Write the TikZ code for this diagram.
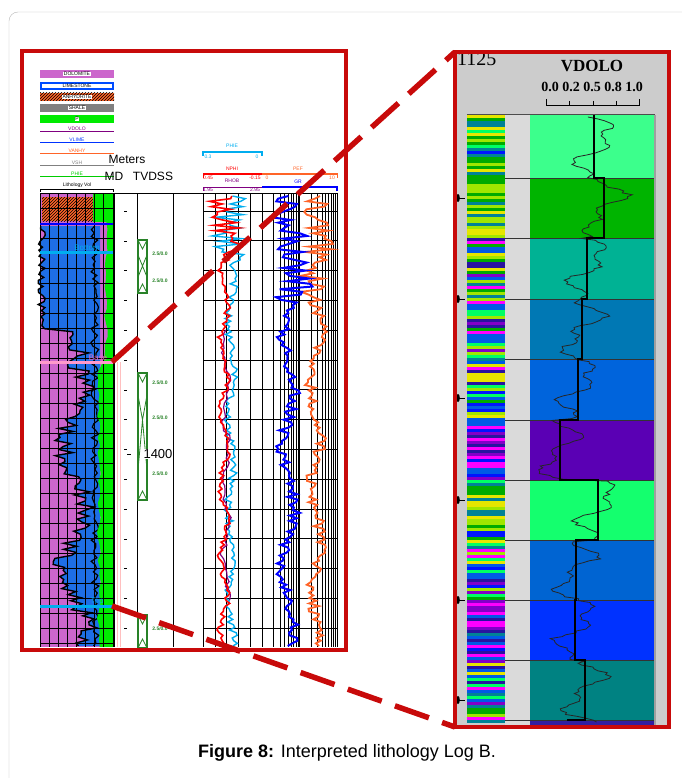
\documentclass[tikz,border=0pt]{standalone}
\usepackage{fontspec}
\setmainfont{Liberation Serif}
\setsansfont{Liberation Sans}
\usetikzlibrary{patterns}
\definecolor{frame}{RGB}{200,10,10}
\definecolor{litmag}{RGB}{204,102,204}
\definecolor{litblue}{RGB}{30,110,230}
\definecolor{litgreen}{RGB}{0,235,0}
\definecolor{litorange}{RGB}{255,100,40}
\definecolor{zonegreen}{RGB}{40,130,40}
\definecolor{panelgray}{RGB}{204,204,204}
\definecolor{colgray}{RGB}{218,218,218}
\definecolor{za}{RGB}{60,255,140}
\definecolor{zb}{RGB}{0,180,0}
\definecolor{zc}{RGB}{0,178,148}
\definecolor{zd}{RGB}{0,120,180}
\definecolor{ze}{RGB}{0,100,220}
\definecolor{zf}{RGB}{90,0,180}
\definecolor{zg}{RGB}{20,255,110}
\definecolor{zh}{RGB}{0,100,210}
\definecolor{zi}{RGB}{0,50,255}
\definecolor{zj}{RGB}{0,130,130}
\definecolor{zk}{RGB}{50,30,160}
\definecolor{sgreen}{RGB}{0,170,0}
\definecolor{sbright}{RGB}{0,255,100}
\definecolor{slime}{RGB}{160,230,0}
\definecolor{syellow}{RGB}{230,230,0}
\definecolor{sblue}{RGB}{0,20,255}
\definecolor{sroyal}{RGB}{0,90,230}
\definecolor{steal}{RGB}{0,130,150}
\definecolor{smag}{RGB}{255,0,255}
\definecolor{spurple}{RGB}{130,0,200}
\definecolor{snavy}{RGB}{40,20,160}
\pgfmathdeclarerandomlist{stripG}{{sgreen}{sbright}{slime}{syellow}{sgreen}{steal}{sblue}{slime}}
\pgfmathdeclarerandomlist{stripA}{{sgreen}{sbright}{slime}{syellow}{sblue}{sroyal}{steal}{spurple}{smag}{snavy}}
\pgfmathdeclarerandomlist{stripP}{{smag}{spurple}{snavy}{sblue}{smag}{spurple}{sroyal}{steal}}

\begin{document}
\begin{tikzpicture}[x=1pt,y=-1pt,
  tinytext/.style={font=\sffamily\fontsize{5}{5}\selectfont, inner sep=0.5},
  zoomline/.style={frame, line width=5.5, dash pattern=on 36pt off 14pt},
  declare function={vd(\t)=(\t<178?594:(\t<238?604:(\t<299?587:(\t<359?582:(\t<420?578:(\t<480?560:(\t<540?598:(\t<600?576:(\t<660?575:585)))))))));}]
\useasboundingbox (0,0) rectangle (681,778);
\draw[gray!55, rounded corners=9pt] (9,800) -- (9,12) -- (700,12);

% legend
\fill[litmag] (40,70) rectangle (114,78);
\node[tinytext, fill=white] (legdol) at (77,74) {DOLOMITE};
\draw[blue!70!cyan, line width=1.2, fill=white] (41,83) rectangle (113,89);
\node[tinytext] (leglime) at (77,86) {LIMESTONE};
\fill[litorange] (40,93) rectangle (114,101);
\fill[pattern=north east lines] (40,93) rectangle (114,101);
\node[tinytext, fill=white] (leganh) at (77,97) {ANHYDRITE};
\fill[gray] (40,104) rectangle (114,112);
\node[tinytext, fill=white] (legsh) at (77,108) {SHALE};
\fill[litgreen] (40,115) rectangle (114,123);
\node[tinytext, fill=white] (legphi) at (77,119) {P};
\foreach \y/\c/\s in {131/violet/VDOLO, 142/blue!80!cyan/VLIME, 153/litorange/VANHY, 165/gray/VSH, 176/green!80!black/PHIE}{
  \draw[\c, line width=0.8] (40,\y) -- (114,\y);
  \node[tinytext, text=\c, above] (leg\s) at (77,\y) {\s};
}
\node[font=\sffamily\fontsize{12}{12}\selectfont] (meters) at (127,159) {Meters};
\node[font=\sffamily\fontsize{12}{12}\selectfont] (md) at (114,176) {MD};
\node[font=\sffamily\fontsize{12}{12}\selectfont] (tvdss) at (153,176) {TVDSS};

% lithology track
\node[tinytext] (lithhdr) at (77,185) {Lithology Vol};
\draw (40,192) -- (40,189) -- (113,189) -- (113,192);
\fill[litmag] (40,193) rectangle (113,647);
\pgfmathsetseed{11}
\fill[litblue] plot[domain=226:646, samples=140, variable=\t] ({(\t<330 ? 42+4*rand : (\t<362 ? 76+14*rand : 74+12*sin(3*\t)+11*rand))}, \t) -- (100,646) -- (100,226) -- cycle;
\pgfmathsetseed{11}
\draw[line width=1.4] plot[domain=226:646, samples=140, variable=\t] ({(\t<330 ? 42+4*rand : (\t<362 ? 76+14*rand : 74+12*sin(3*\t)+11*rand))}, \t);
\pgfmathsetseed{5}
\draw[line width=1.2] plot[domain=226:646, samples=120, variable=\t] ({95+4*rand}, \t);
\fill[litorange] (42,197) rectangle (93,221);
\fill[pattern=north east lines] (42,197) rectangle (93,221);
\fill[litgreen] (93,193) rectangle (113,222);
\pgfmathsetseed{7}
\fill[litgreen] plot[domain=222:647, samples=60, variable=\t] ({(\t<362 ? 106+2*rand : 99+2*rand)}, \t) -- (113,647) -- (113,222) -- cycle;
\foreach \x in {40,49.1,...,114}
  \draw[line width=0.6] (\x,193) -- (\x,647);
\foreach \y in {193,208,...,647}
  \draw[line width=0.6] (40,\y) -- (113,\y);
\draw[blue, line width=2.5] (40,224) -- (113,224);
\draw[cyan, line width=3] (40,252) -- (113,252);
\node[font=\sffamily\fontsize{8}{8}\selectfont, text=cyan, inner sep=0] (bottomlbl) at (87,248) {Bottom};
\draw[pink!80!magenta, line width=3] (40,362) -- (113,362);
\node[font=\sffamily\fontsize{8}{8}\selectfont, text=magenta!60, inner sep=0] (baselbl) at (98,358) {Base};
\draw[cyan, line width=3] (40,606) -- (113,606);
\node[font=\sffamily\fontsize{8}{8}\selectfont, text=cyan, inner sep=0] (toplbl) at (97,602) {Top};

% depth and zone columns
\draw (114,193) -- (114,647);
\draw[pink, line width=0.5] (117,362) -- (117,647);
\draw[pink, line width=0.5] (120,362) -- (120,647);
\foreach \k in {0,...,14}
  \draw (124,211+29.8*\k) -- (127,211+29.8*\k);
\draw[line width=1] (137,193) -- (137,647);
\draw[line width=1] (173,193) -- (173,647);
\draw[line width=1] (40,193) -- (337,193);
\foreach \ya/\yb in {240/293, 373/500, 615/648}{
  \draw[zonegreen, line width=1.2] (138,\ya) rectangle (147,\yb);
  \draw[zonegreen, line width=0.8] (138,\ya) -- (142.5,\ya+9) -- (147,\ya);
  \draw[zonegreen, line width=0.8] (138,\yb) -- (142.5,\yb-9) -- (147,\yb);
}
\draw[zonegreen, line width=0.8] (138,255) -- (142.5,266) -- (147,255) (138,277) -- (142.5,266) -- (147,277);
\draw[zonegreen, line width=0.8] (138,395) -- (142.5,420) -- (147,395) (138,470) -- (142.5,420) -- (147,470);
\foreach \y/\s in {254/a, 281/b, 383/c, 418/d, 474/e, 629/f}
  \node[tinytext, text=zonegreen, font=\sffamily\bfseries\fontsize{5}{5}\selectfont] (zlbl\s) at (160,\y) {2.5/0.0};
\node[font=\sffamily\fontsize{13}{13}\selectfont, fill=white, inner sep=0.5] (depth) at (158,454) {1400};
\draw (127,454) -- (131,454);

% log track headers
\node[tinytext, text=cyan] (hdrphi) at (232,146) {PHIE};
\draw[cyan, line width=1.2] (203,156) -- (203,152) -- (262,152) -- (262,156);
\node[tinytext, text=cyan] (phimin) at (208,157) {0.3};
\node[tinytext, text=cyan] (phimax) at (257,157) {0};
\node[tinytext, text=red] (hdrnphi) at (232,169) {NPHI};
\draw[red, line width=1] (203,178) -- (203,174) -- (262,174);
\node[tinytext, text=red] (nphimin) at (208,178) {0.45};
\node[tinytext, text=red] (nphimax) at (255,178) {-0.15};
\node[tinytext, text=violet] (hdrrhob) at (232,181) {RHOB};
\draw[violet, line width=1] (203,191) -- (203,187) -- (262,187);
\node[tinytext, text=violet] (rhobmin) at (208,190) {1.95};
\node[tinytext, text=violet] (rhobmax) at (255,190) {2.95};
\node[tinytext, text=litorange] (hdrpef) at (298,169) {PEF};
\draw[litorange, line width=1] (262,174) -- (337,174) -- (337,178);
\node[tinytext, text=litorange] (pefmin) at (267,178) {0};
\node[tinytext, text=litorange] (pefmax) at (332,178) {10};
\node[tinytext, text=blue] (hdrgr) at (298,182) {GR};
\draw[blue, line width=1.2] (262,187) -- (337,187) -- (337,191);

% log tracks
\foreach \x in {214.8,226.6,238.4,250.2}
  \draw[line width=0.5] (\x,193) -- (\x,647);
\foreach \d in {0,37.5}
  \foreach \k in {2,...,9}
    \draw[line width=0.5] ({262+\d+37.5*log10(\k)},193) -- ({262+\d+37.5*log10(\k)},647);
\draw[line width=1] (203,193) -- (203,647);
\draw[line width=1] (262,193) -- (262,647);
\draw[line width=1] (299.5,193) -- (299.5,647);
\draw[line width=1] (337,193) -- (337,647);
\foreach \k in {0,...,14}
  \draw[line width=1] (203,211+29.8*\k) -- (337,211+29.8*\k);
\pgfmathsetseed{21}
\draw[cyan, line width=1.4] plot[domain=196:646, samples=170, variable=\t] ({231+3*sin(4*\t+40)+(\t<262 ? 16*rand : 4*rand)}, \t);
\draw[violet, line width=1.2] plot[domain=330:600, samples=60, variable=\t] ({226+3*sin(5*\t)+3*rand}, \t);
\draw[red, line width=1.6] plot[domain=196:646, samples=170, variable=\t] ({224+4*sin(5*\t)+(\t<262 ? 14*rand : 3*rand)}, \t);
\draw[litorange, line width=1.8] plot[domain=196:646, samples=170, variable=\t] ({316+5*sin(3.5*\t)+(\t<300 ? 14*rand : 6*rand)}, \t);
\draw[blue, line width=2] plot[domain=196:646, samples=170, variable=\t] ({(\t<330 ? 292 : 288)+6*sin(3*\t)+(\t<300 ? 17*rand : 6*rand)}, \t);

% zoomed panel
\fill[panelgray] (455,52) rectangle (669,727);
\fill[colgray] (505,115) rectangle (530,725);
\foreach \ya/\yb/\c in {115/178/za, 178/238/zb, 238/299/zc, 299/359/zd, 359/420/ze, 420/480/zf, 480/540/zg, 540/600/zh, 600/660/zi, 660/720/zj, 720/725/zk}
  \fill[\c] (530,\ya) rectangle (654,\yb);
\pgfmathsetseed{31}
\foreach \ya/\yb/\lst in {115/238/stripG, 238/420/stripA, 420/480/stripP, 480/540/stripG, 540/600/stripA, 600/660/stripP, 660/722/stripA}{
  \pgfmathsetmacro\ys{\ya+3}
  \foreach \y in {\ya,\ys,...,\yb}{
    \pgfmathrandomitem{\sc}{\lst}
    \fill[\sc] (467,\y) rectangle (505,\y+3.2);
  }
}
\foreach \y in {178,238,299,359,420,480,540,600,660,720}
  \draw[gray!40!black, line width=0.8] (505,\y) -- (654,\y);
\draw[gray!60!black, line width=1] (467,115) -- (655,115);
\draw[gray!75, line width=1.5] (655,115) -- (655,725);
\pgfmathsetseed{41}
\draw[black!85, line width=0.8] plot[domain=117:722, samples=320, variable=\t] ({vd(\t)+16*sin(6*\t)+9*sin(15*\t+30)+4*rand}, \t);
\draw[line width=2.5] (594,115) -- (594,178) -- (604,178) -- (604,238) -- (587,238) -- (587,299) -- (582,299) -- (582,359) -- (578,359) -- (578,420) -- (560,420) -- (560,480) -- (598,480) -- (598,540) -- (576,540) -- (576,600) -- (575,600) -- (575,660) -- (585,660) -- (585,720) -- (567,720);
\foreach \y in {198,299,398,500,600,700}{
  \fill (458,\y) ellipse (1.8 and 4);
  \draw (458,\y) -- (465,\y);
}
\node[font=\fontsize{20}{20}\selectfont, anchor=base west, inner sep=0] (depthtop) at (457,66) {1125};
\node[font=\bfseries\fontsize{17}{17}\selectfont] (vdolo) at (592,66) {VDOLO};
\node[font=\bfseries\fontsize{14}{14}\selectfont] (scale) at (592,87) {0.0 0.2 0.5 0.8 1.0};
\draw (546,99) -- (546,105) -- (639,105) -- (639,99);
\foreach \x in {569,593,616}
  \draw (\x,101) -- (\x,105);

% frames and zoom lines
\draw[frame, line width=4] (22,51) rectangle (346,650);
\draw[frame, line width=4] (455,52) rectangle (669,727);
\coordinate (baseL) at (112,362);
\coordinate (topL) at (112,606);
\coordinate (zoomNW) at (455,52);
\coordinate (zoomSW) at (455,727);
\draw[zoomline] (baseL) -- (zoomNW);
\draw[zoomline] (topL) -- (zoomSW);

\node[font=\sffamily\fontsize{18}{20}\selectfont] (caption) at (347,753) {\textbf{Figure 8:} Interpreted lithology Log B.};
\end{tikzpicture}
\end{document}
